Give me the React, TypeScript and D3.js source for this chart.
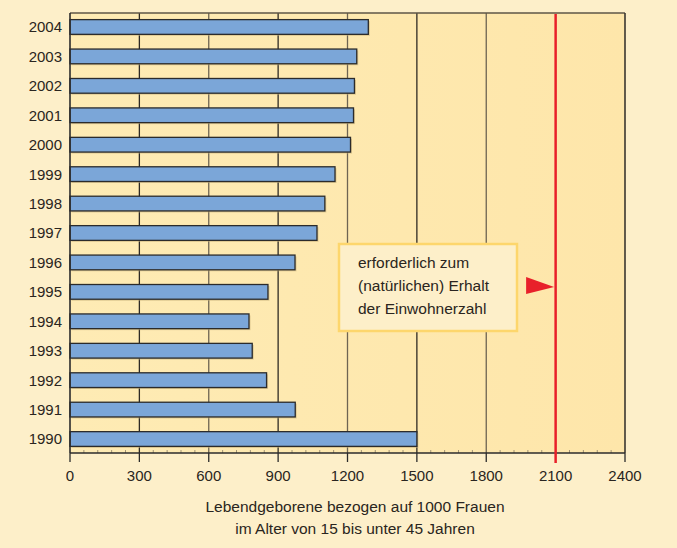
import React, { useEffect, useRef } from 'react';
import * as d3 from 'd3';

// Lebendgeborene je 1000 Frauen (15-45 Jahre)
const years = ['2004', '2003', '2002', '2001', '2000', '1999', '1998', '1997', '1996', '1995', '1994', '1993', '1992', '1991', '1990'];
const births = [1290, 1240, 1230, 1226, 1213, 1146, 1102, 1068, 973, 856, 774, 788, 850, 974, 1500];
const xTicks = [0, 300, 600, 900, 1200, 1500, 1800, 2100, 2400];
const requiredLevel = 2100;
const noteLines = ['erforderlich zum', '(natürlichen) Erhalt', 'der Einwohnerzahl'];
const axisTitle = ['Lebendgeborene bezogen auf 1000 Frauen', 'im Alter von 15 bis unter 45 Jahren'];

const W = 677;
const H = 548;
const FONT = '"Liberation Sans", Arial, Helvetica, sans-serif';

const App: React.FC = () => {
    const svgRef = useRef<SVGSVGElement>(null);

    useEffect(() => {
        if (!svgRef.current) return;
        const svg = d3.select(svgRef.current);
        svg.selectAll('*').remove();

        const left = 70, right = 625, top = 13, bottom = 453;

        const x = d3.scaleLinear().domain([0, 2400]).range([left, right]);
        const y = d3.scaleBand<string>()
            .domain(years)
            .range([top, bottom])
            .paddingInner(0.5)
            .paddingOuter(0.225);

        svg.append('rect').attr('width', W).attr('height', H).attr('fill', '#fdefc9');

        const defs = svg.append('defs');
        const grad = defs.append('linearGradient').attr('id', 'plotbg').attr('x1', 0).attr('x2', 1);
        grad.append('stop').attr('offset', '0%').attr('stop-color', '#feebb4');
        grad.append('stop').attr('offset', '100%').attr('stop-color', '#fee6aa');

        svg.append('rect')
            .attr('x', left).attr('y', top)
            .attr('width', right - left).attr('height', bottom - top)
            .attr('fill', 'url(#plotbg)');

        // vertical grid lines
        svg.append('g').selectAll('line')
            .data(xTicks.filter(t => t > 0 && t < 2400 && t !== requiredLevel))
            .enter().append('line')
            .attr('x1', d => x(d)).attr('x2', d => x(d))
            .attr('y1', top).attr('y2', bottom)
            .attr('stroke', (d, i) => (i % 2 === 0 ? '#2e2a24' : '#6e6452'))
            .attr('stroke-width', 1.3);

        // minor ticks along bottom (inside)
        const minor = d3.range(60, 2400, 60).filter(v => v % 300 !== 0);
        svg.append('g').selectAll('line')
            .data(minor)
            .enter().append('line')
            .attr('x1', d => x(d)).attr('x2', d => x(d))
            .attr('y1', bottom - 3).attr('y2', bottom)
            .attr('stroke', '#8a7e66').attr('stroke-width', 0.8);

        // bars with slight shadow
        const bars = svg.append('g');
        bars.selectAll('rect.shadow')
            .data(years)
            .enter().append('rect')
            .attr('class', 'shadow')
            .attr('x', x(0) + 1.5)
            .attr('y', d => (y(d) as number) + 1.5)
            .attr('width', (d, i) => x(births[i]) - x(0))
            .attr('height', y.bandwidth())
            .attr('fill', '#c9b27a').attr('opacity', 0.6);
        bars.selectAll('rect.bar')
            .data(years)
            .enter().append('rect')
            .attr('class', 'bar')
            .attr('x', x(0))
            .attr('y', d => y(d) as number)
            .attr('width', (d, i) => x(births[i]) - x(0))
            .attr('height', y.bandwidth())
            .attr('fill', '#7ba6d8')
            .attr('stroke', '#2b2b2b')
            .attr('stroke-width', 1.3);

        // frame
        svg.append('line').attr('x1', left).attr('x2', right).attr('y1', top).attr('y2', top)
            .attr('stroke', '#5e5646').attr('stroke-width', 1.6);
        svg.append('line').attr('x1', right).attr('x2', right).attr('y1', top).attr('y2', bottom)
            .attr('stroke', '#3a3630').attr('stroke-width', 1.6);
        svg.append('line').attr('x1', left).attr('x2', left).attr('y1', top).attr('y2', bottom)
            .attr('stroke', '#2b2b2b').attr('stroke-width', 1.6);
        svg.append('line').attr('x1', left).attr('x2', right).attr('y1', bottom).attr('y2', bottom)
            .attr('stroke', '#2b2b2b').attr('stroke-width', 1.4);

        // major ticks below
        svg.append('g').selectAll('line')
            .data(xTicks.filter(t => t !== requiredLevel))
            .enter().append('line')
            .attr('x1', d => x(d)).attr('x2', d => x(d))
            .attr('y1', bottom).attr('y2', bottom + 9)
            .attr('stroke', '#2b2b2b').attr('stroke-width', 1.3);

        // red requirement line
        svg.append('line')
            .attr('x1', x(requiredLevel)).attr('x2', x(requiredLevel))
            .attr('y1', top + 1).attr('y2', bottom + 10)
            .attr('stroke', '#e8202a').attr('stroke-width', 2.5);

        // x tick labels
        svg.append('g').selectAll('text')
            .data(xTicks)
            .enter().append('text')
            .attr('x', d => x(d)).attr('y', 481)
            .attr('text-anchor', 'middle')
            .attr('font-family', FONT).attr('font-size', 15)
            .attr('fill', '#2a2520')
            .text(d => String(d));

        // y labels
        svg.append('g').selectAll('text')
            .data(years)
            .enter().append('text')
            .attr('x', 62)
            .attr('y', d => (y(d) as number) + y.bandwidth() / 2)
            .attr('dy', '0.36em')
            .attr('text-anchor', 'end')
            .attr('font-family', FONT).attr('font-size', 15)
            .attr('fill', '#2a2520')
            .text(d => d);

        // axis title
        svg.append('g').selectAll('text')
            .data(axisTitle)
            .enter().append('text')
            .attr('x', 355).attr('y', (d, i) => 512 + i * 22)
            .attr('text-anchor', 'middle')
            .attr('font-family', FONT).attr('font-size', 15.5)
            .attr('fill', '#2a2520')
            .text(d => d);

        // annotation box
        svg.append('rect')
            .attr('x', 339).attr('y', 244)
            .attr('width', 178).attr('height', 87)
            .attr('fill', '#fdefc9')
            .attr('stroke', '#fdd66c').attr('stroke-width', 2.5);
        svg.append('g').selectAll('text')
            .data(noteLines)
            .enter().append('text')
            .attr('x', 358).attr('y', (d, i) => 268 + i * 23)
            .attr('font-family', FONT).attr('font-size', 15.5)
            .attr('fill', '#2a2520')
            .text(d => d);

        // arrow
        const ax = x(requiredLevel) - 1.5;
        svg.append('path')
            .attr('d', `M${ax - 28},277 L${ax},287 L${ax - 28},294 Z`)
            .attr('fill', '#e8202a');
    }, []);

    return (
        <svg
            ref={svgRef}
            width={W}
            height={H}
            style={{ position: 'absolute', left: 0, top: 0, display: 'block' }}
        />
    );
};

export default App;
